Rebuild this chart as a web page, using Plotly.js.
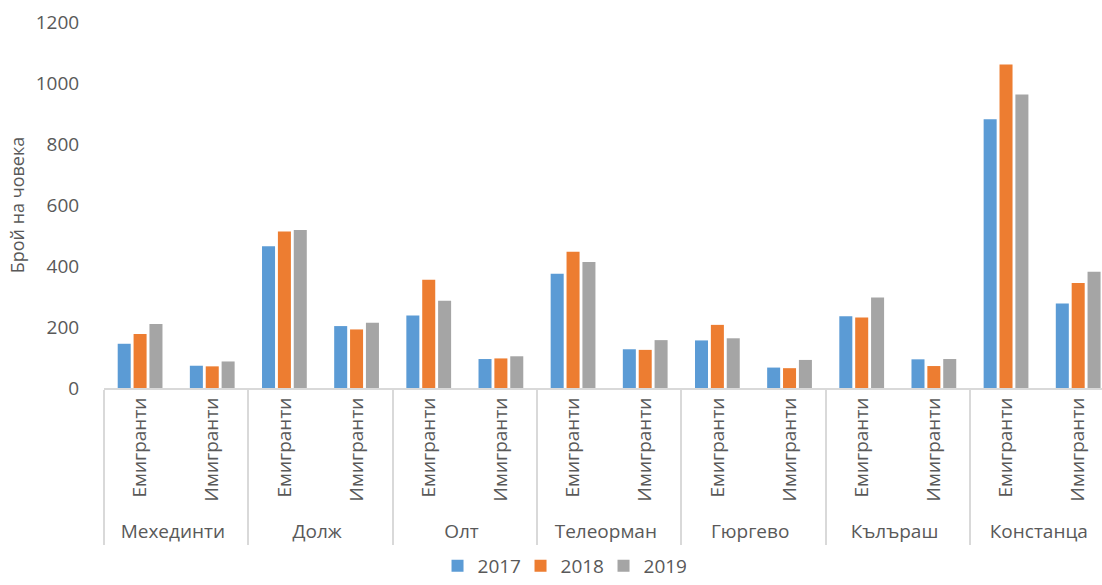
<!DOCTYPE html>
<html>
<head>
<meta charset="utf-8">
<script src="https://cdn.plot.ly/plotly-3.0.1.min.js"></script>
<style>html,body{margin:0;padding:0;background:#fff;}#chart{width:1102px;height:585px;}</style>
</head>
<body>
<div id="chart"></div>
<script>
const regions = ["Мехединти", "Долж", "Олт", "Телеорман", "Гюргево", "Кълъраш", "Констанца"];
const kinds = ["Емигранти", "Имигранти"];
const years = ["2017", "2018", "2019"];
const v2017 = [145, 73, 465, 203, 238, 95, 375, 127, 156, 67, 235, 94, 881, 277];
const v2018 = [177, 71, 513, 192, 355, 97, 447, 125, 207, 65, 231, 72, 1061, 344];
const v2019 = [210, 87, 518, 214, 286, 104, 413, 157, 163, 92, 297, 95, 962, 381];
const colors = ["#5B9BD5", "#ED7D31", "#A5A5A5"];

const outer = [], inner = [];
regions.forEach(r => kinds.forEach(k => { outer.push(r); inner.push(k); }));
const series = [v2017, v2018, v2019];

const font = "Open Sans, Liberation Sans, sans-serif";
const traces = series.map((vals, i) => ({
  type: "bar",
  name: years[i],
  x: [outer, inner],
  y: vals,
  marker: {color: colors[i], line: {width: 0}},
  hoverinfo: "y"
}));

const layout = {
  width: 1102, height: 585,
  margin: {l: 104, r: 0, t: 22, b: 197},
  paper_bgcolor: "#fff", plot_bgcolor: "#fff",
  font: {family: font, color: "#595959", size: 19},
  barmode: "group",
  bargap: 0.34,
  bargroupgap: 0.18,
  showlegend: true,
  legend: {
    orientation: "h", xref: "container", yref: "container",
    x: 0.51, xanchor: "center", y: -0.014, yanchor: "bottom",
    entrywidth: 38, entrywidthmode: "pixels",
    font: {size: 19, color: "#595959"}
  },
  xaxis: {
    type: "multicategory",
    range: [-0.5, 13.33],
    tickangle: -90,
    showline: true, linecolor: "#d9d9d9", linewidth: 2,
    showdividers: true, dividercolor: "#d9d9d9", dividerwidth: 2,
    showgrid: false, ticks: "",
    tickfont: {size: 19, color: "#595959"}
  },
  yaxis: {
    range: [0, 1200], dtick: 200,
    showgrid: false, zeroline: false, showline: false,
    ticks: "outside", ticklen: 20, tickcolor: "rgba(0,0,0,0)",
    tickfont: {size: 19, color: "#595959"},
    title: {text: "Брой на човека", font: {size: 18, color: "#595959"}, standoff: 6}
  }
};

Plotly.newPlot("chart", traces, layout, {staticPlot: true});
</script>
</body>
</html>
